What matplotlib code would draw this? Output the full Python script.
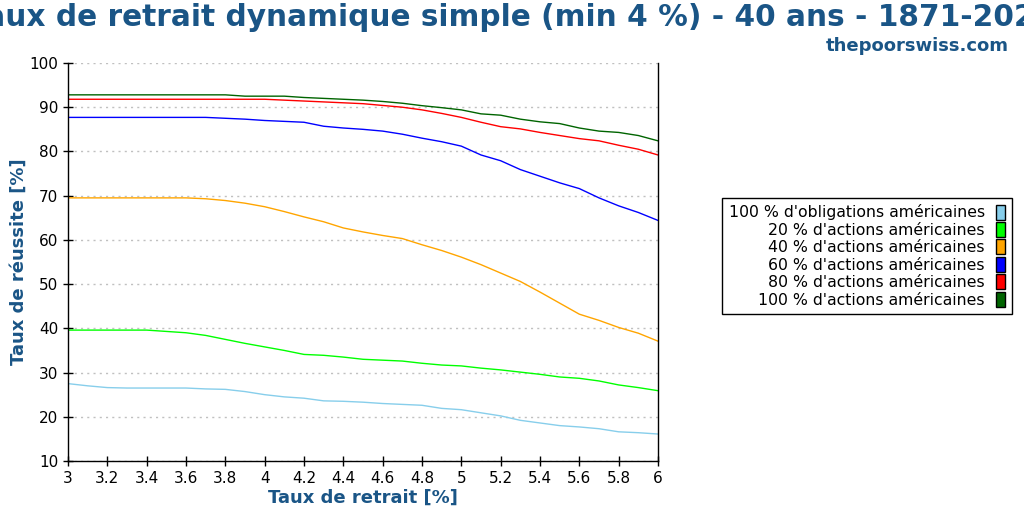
import matplotlib
matplotlib.use("Agg")
import matplotlib.pyplot as plt
from matplotlib.patches import Patch

# withdrawal rates (%)
rates = [3.0, 3.1, 3.2, 3.3, 3.4, 3.5, 3.6, 3.7, 3.8, 3.9, 4.0,
         4.1, 4.2, 4.3, 4.4, 4.5, 4.6, 4.7, 4.8, 4.9, 5.0,
         5.1, 5.2, 5.3, 5.4, 5.5, 5.6, 5.7, 5.8, 5.9, 6.0]

bonds_100 = [27.5, 27.0, 26.6, 26.5, 26.5, 26.5, 26.5, 26.3, 26.2, 25.7, 25.0,
             24.5, 24.2, 23.6, 23.5, 23.3, 23.0, 22.8, 22.6, 21.9, 21.6,
             20.9, 20.2, 19.2, 18.6, 18.0, 17.7, 17.3, 16.6, 16.4, 16.1]
stocks_20 = [39.6, 39.6, 39.6, 39.6, 39.6, 39.3, 39.0, 38.4, 37.5, 36.6, 35.8,
             35.0, 34.1, 33.9, 33.5, 33.0, 32.8, 32.6, 32.1, 31.7, 31.5,
             31.0, 30.6, 30.1, 29.6, 29.0, 28.7, 28.1, 27.2, 26.6, 25.9]
stocks_40 = [69.5, 69.5, 69.5, 69.5, 69.5, 69.5, 69.5, 69.3, 68.9, 68.3, 67.5,
             66.4, 65.2, 64.1, 62.7, 61.8, 61.0, 60.3, 58.9, 57.6, 56.1,
             54.4, 52.5, 50.6, 48.2, 45.7, 43.2, 41.8, 40.2, 38.9, 37.1]
stocks_60 = [87.7, 87.7, 87.7, 87.7, 87.7, 87.7, 87.7, 87.7, 87.5, 87.3, 87.0,
             86.8, 86.6, 85.7, 85.3, 85.0, 84.6, 83.9, 83.0, 82.2, 81.2,
             79.2, 77.9, 75.9, 74.4, 72.9, 71.6, 69.5, 67.7, 66.2, 64.4]
stocks_80 = [91.8, 91.8, 91.8, 91.8, 91.8, 91.8, 91.8, 91.8, 91.8, 91.8, 91.8,
             91.6, 91.4, 91.2, 91.0, 90.8, 90.4, 90.0, 89.4, 88.6, 87.7,
             86.6, 85.6, 85.1, 84.3, 83.6, 82.9, 82.4, 81.4, 80.5, 79.2]
stocks_100 = [92.8, 92.8, 92.8, 92.8, 92.8, 92.8, 92.8, 92.8, 92.8, 92.5, 92.5,
              92.5, 92.2, 92.0, 91.8, 91.6, 91.3, 90.9, 90.35, 89.9, 89.4,
              88.5, 88.2, 87.3, 86.7, 86.3, 85.3, 84.6, 84.3, 83.6, 82.4]

labels = ["100 % d'obligations américaines",
          "20 % d'actions américaines",
          "40 % d'actions américaines",
          "60 % d'actions américaines",
          "80 % d'actions américaines",
          "100 % d'actions américaines"]
series = [bonds_100, stocks_20, stocks_40, stocks_60, stocks_80, stocks_100]
colors = ["#87ceeb", "#00ff00", "#ffa500", "#0000ff", "#ff0000", "#006400"]

title_color = "#1a5586"

fig = plt.figure(figsize=(10.24, 5.12), dpi=100)
ax = fig.add_axes([68 / 1024, 1 - 461 / 512, 590 / 1024, 398 / 512])

for vals, c in zip(series, colors):
    ax.plot(rates, vals, color=c, linewidth=1)

ax.set_xlim(3, 6)
ax.set_ylim(10, 100)
ax.set_xticks([3, 3.2, 3.4, 3.6, 3.8, 4, 4.2, 4.4, 4.6, 4.8, 5, 5.2, 5.4, 5.6, 5.8, 6])
ax.set_xticklabels(["3", "3.2", "3.4", "3.6", "3.8", "4", "4.2", "4.4", "4.6",
                    "4.8", "5", "5.2", "5.4", "5.6", "5.8", "6"])
ax.set_yticks(range(10, 101, 10))
ax.tick_params(direction="inout", length=7, width=1, labelsize=11, colors="black")
ax.yaxis.grid(True, color="#c0c0c0", linestyle=(0, (1.5, 3)), linewidth=1)
ax.spines["top"].set_visible(False)
for s in ["left", "right", "bottom"]:
    ax.spines[s].set_linewidth(1)

ax.set_xlabel("Taux de retrait [%]", fontsize=13, fontweight="bold",
              color=title_color, labelpad=2)
ax.set_ylabel("Taux de réussite [%]", fontsize=13, fontweight="bold",
              color=title_color, labelpad=1)

# the reference title is wider than the canvas and gets clipped at both sides
fig.text(0.5, 0.966, "Taux de retrait dynamique simple (min 4 %) - 40 ans - 1871-2023",
         ha="center", va="center", fontsize=21.3, fontweight="bold", color=title_color)
fig.text(1009 / 1024, 1 - 46 / 512, "thepoorswiss.com", ha="right", va="center",
         fontsize=13, fontweight="bold", color=title_color)

handles = [Patch(facecolor=c, edgecolor="black", linewidth=1) for c in colors]
leg = fig.legend(handles, labels, loc="center", bbox_to_anchor=(867 / 1024, 1 - 256 / 512),
                 markerfirst=False, fontsize=11.3, handlelength=0.6, handleheight=1.1,
                 handletextpad=0.7, labelspacing=0.1, borderpad=0.4,
                 fancybox=False, framealpha=1, edgecolor="black")
leg.get_frame().set_linewidth(1)

fig.savefig("out.png", dpi=100)
